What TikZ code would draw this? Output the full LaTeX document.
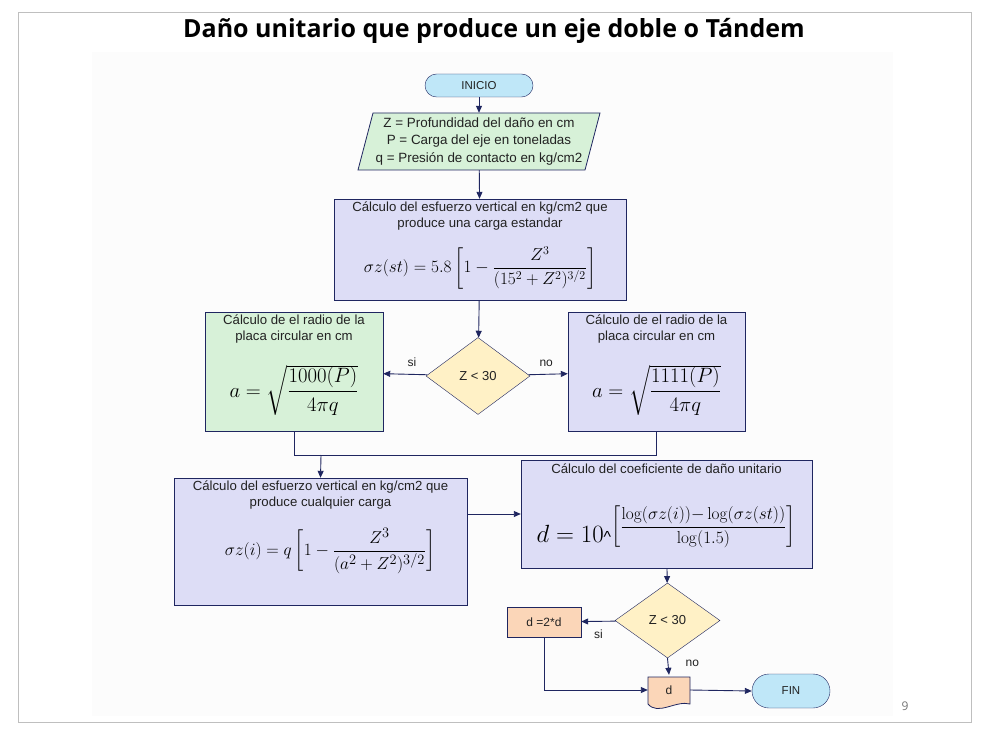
\documentclass[tikz,border=0pt]{standalone}
\usepackage{amsmath}
\usepackage[no-math]{fontspec}
\setmainfont{Liberation Sans}
\newfontfamily\titlefont{Open Sans}
\usetikzlibrary{shapes.geometric,arrows.meta,positioning}
\definecolor{flowline}{HTML}{1F2660}
\definecolor{flowblue}{HTML}{BFE7F8}
\definecolor{flowgreen}{HTML}{D7F1D8}
\definecolor{flowlav}{HTML}{DDDDF6}
\definecolor{flowyellow}{HTML}{FFF1C6}
\definecolor{flowpeach}{HTML}{FBD6B8}
\definecolor{flowtext}{HTML}{222222}

\begin{document}
\begin{tikzpicture}[x=1pt,y=-1pt,
  term/.style={rectangle,draw=flowline,fill=flowblue,
    minimum width=108pt,minimum height=23pt,rounded corners=11.5pt,
    text=flowtext,font=\fontsize{11.5}{13}\selectfont},
  calcbox/.style={rectangle,draw=flowline,fill=flowlav,inner sep=0pt},
  boxtxt/.style={align=center,text=flowtext,font=\fontsize{13.2}{16}\selectfont},
  mathtxt/.style={text=black,font=\fontsize{17}{20}\selectfont},
  cond/.style={diamond,draw=flowline,fill=flowyellow,inner sep=0pt,
    minimum width=104pt,minimum height=77pt,
    text=flowtext,font=\fontsize{13}{15}\selectfont},
  lbl/.style={text=flowtext,font=\fontsize{12}{14}\selectfont},
  arr/.style={-{Triangle[length=7pt,width=6pt]},flowline,line width=0.9pt},
  line/.style={flowline,line width=0.9pt}]

  \useasboundingbox (0,0) rectangle (987,743);
  \draw[black!25,line width=0.9pt] (18,12) rectangle (971,722);
  \fill[black!1] (92,52) rectangle (893,716);

  \node[font=\titlefont\bfseries\fontsize{25}{29}\selectfont] (titulo) at (494,31)
    {Daño unitario que produce un eje doble o Tándem};
  \node[text=black!55,font=\titlefont\fontsize{12}{14}\selectfont] (pagina) at (905,706) {9};

  % inicio y datos
  \node[term] (inicio) at (479,85.5) {INICIO};
  \draw[flowline,fill=flowgreen,line width=0.8pt]
    (373,113) -- (600,113) -- (585,170) -- (358,170) -- cycle;
  \node[boxtxt,font=\fontsize{13.4}{17.5}\selectfont,
    minimum width=242pt,minimum height=57pt] (datos) at (479,141.5)
    {Z = Profundidad del daño en cm\\P = Carga del eje en toneladas\\q = Presión de contacto en kg/cm2};

  % esfuerzo carga estandar
  \node[calcbox,minimum width=292pt,minimum height=101pt] (std) at (480,249.5) {};
  \node[boxtxt] (stdt) at (480,216) {Cálculo del esfuerzo vertical en kg/cm2 que\\produce una carga estandar};
  \node[mathtxt] (stdf) at (480,268)
    {$\sigma z(st) = 5.8\left[1-\dfrac{Z^3}{(15^2+Z^2)^{3/2}}\right]$};

  \node[cond] (dec1) at (478,376) {Z < 30};

  % radio de la placa
  \node[calcbox,fill=flowgreen,minimum width=178pt,minimum height=119pt] (radio1) at (294,371.5) {};
  \node[boxtxt] (radio1t) at (294,329) {Cálculo de el radio de la\\placa circular en cm};
  \node[mathtxt,font=\fontsize{20.5}{24}\selectfont] (radio1f) at (294,390) {$a=\sqrt{\dfrac{1000(P)}{4\pi q}}$};

  \node[calcbox,minimum width=177pt,minimum height=119pt] (radio2) at (656.5,371.5) {};
  \node[boxtxt] (radio2t) at (656.5,329) {Cálculo de el radio de la\\placa circular en cm};
  \node[mathtxt,font=\fontsize{20.5}{24}\selectfont] (radio2f) at (656.5,390) {$a=\sqrt{\dfrac{1111(P)}{4\pi q}}$};

  % esfuerzo cualquier carga
  \node[calcbox,minimum width=293pt,minimum height=127pt] (esfi) at (320.5,541.5) {};
  \node[boxtxt] (esfit) at (320.5,495.5) {Cálculo del esfuerzo vertical en kg/cm2 que\\produce cualquier carga};
  \node[mathtxt,font=\fontsize{19}{22}\selectfont] (esfif) at (330,551)
    {$\sigma z(i) = q\left[1-\dfrac{Z^3}{(a^2+Z^2)^{3/2}}\right]$};

  % coeficiente de dano
  \node[calcbox,minimum width=291pt,minimum height=108pt] (coef) at (666.5,514) {};
  \node[boxtxt] (coeft) at (666.5,469) {Cálculo del coeficiente de daño unitario};
  \node[text=black,inner sep=0pt] (coeff) at (666,527)
    {{\fontsize{24}{28}\selectfont$d = 10$}{\fontsize{16}{18}\selectfont\textasciicircum}\raisebox{11pt}{\fontsize{18}{21}\selectfont$\left[\dfrac{\log(\sigma z(i)){-}\log(\sigma z(st))}{\log(1.5)}\right]$}};

  \node[cond,minimum width=105pt,minimum height=75pt] (dec2) at (667.5,620.5) {Z < 30};
  \node[rectangle,draw=flowline,fill=flowpeach,minimum width=74pt,minimum height=30pt,
    lbl] (doble) at (544,622) {d =2*d};

  % salida
  \draw[flowline,fill=flowpeach,line width=0.8pt]
    (648,677) -- (690,677) -- (690,704)
    .. controls (676,700) and (658,716) .. (648,704) -- cycle;
  \node[lbl,minimum width=42pt,minimum height=30pt] (salida) at (669,690) {d};
  \node[term,minimum width=78pt,minimum height=34pt,rounded corners=17pt] (fin) at (791,691) {FIN};

  \coordinate (union) at (321,455);

  \draw[arr] (inicio) -- (datos);
  \draw[arr] (datos) -- (std);
  \draw[arr] (std) -- (dec1);
  \draw[arr] (dec1) -- node[lbl,above=4pt,pos=0.35] {si} (radio1);
  \draw[arr] (dec1) -- node[lbl,above=4pt,pos=0.45] {no} (radio2);
  \draw[line] (radio1.south) -- (radio1.south |- union) -- (radio2.south |- union) -- (radio2.south);
  \draw[arr] (union) -- (esfi.north);
  \draw[arr] (esfi.east |- coef.west) -- (coef.west);
  \draw[arr] (coef) -- (dec2);
  \draw[arr] (dec2) -- node[lbl,below=5pt,pos=0.5] {si} (doble);
  \draw[arr] (dec2.south) -- node[lbl,right=14pt,pos=0.3] {no} (salida.north);
  \draw[arr] (doble.south) |- (salida.west);
  \draw[arr] (salida.east) -- (fin.west);
\end{tikzpicture}
\end{document}
